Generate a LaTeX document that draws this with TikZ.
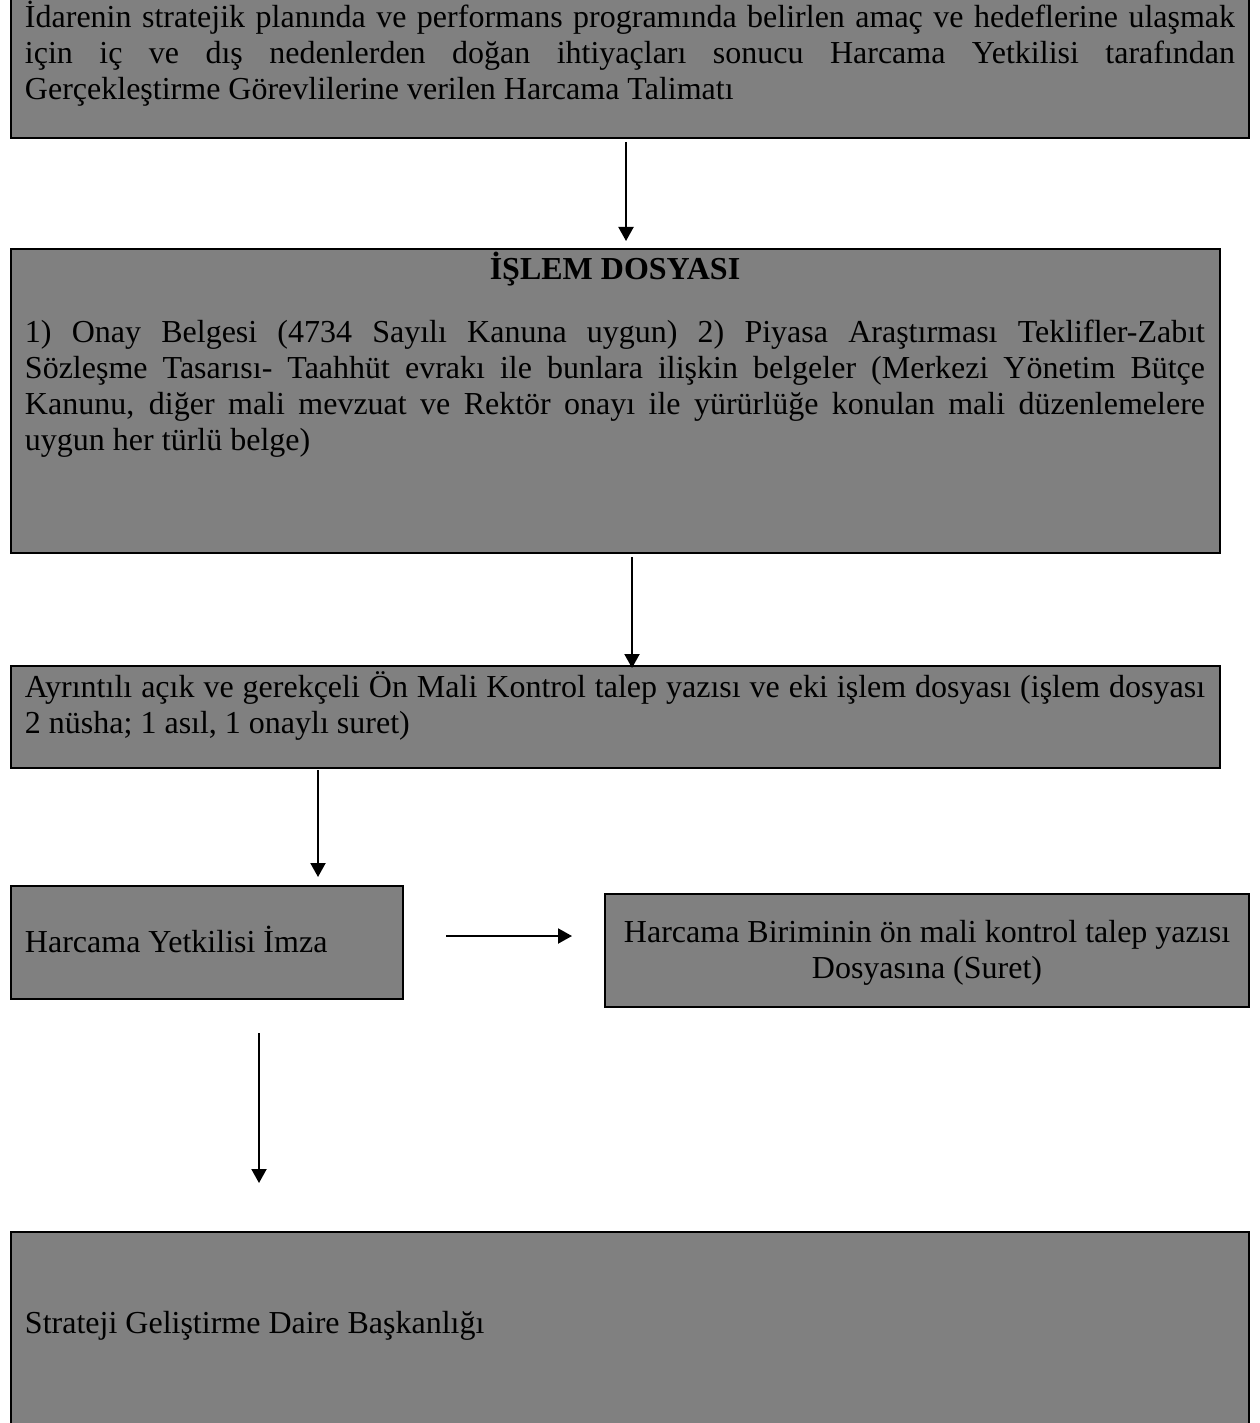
\documentclass[tikz,border=0pt]{standalone}
\usepackage{fontspec}
\setmainfont{Liberation Serif}
\usetikzlibrary{arrows.meta,calc}
\tolerance=9999
\emergencystretch=10pt
\hyphenpenalty=10000
\exhyphenpenalty=10000
\begin{document}
\begin{tikzpicture}[x=0.5pt,y=-0.5pt,
  box/.style={draw=black,line width=1.3pt,fill=gray,rectangle,inner sep=0pt,outer sep=0pt},
  txt/.style={inner sep=0pt,outer sep=0pt,font=\fontsize{16pt}{18pt}\selectfont},
  para/.style={txt,anchor=base west,align=justify},
  arr/.style={line width=1pt,-{Triangle[width=7.5pt,length=7pt]}}]
\useasboundingbox (0,0) rectangle (1259,1423);
% boxes
\node[box,minimum width=619pt,minimum height=72pt] (b1) at (630,66) {};
\node[box,minimum width=604.5pt,minimum height=152pt] (b2) at (615.5,401) {};
\node[box,minimum width=604.5pt,minimum height=51pt] (b3) at (615.5,717) {};
\node[box,minimum width=196pt,minimum height=56.5pt] (b4) at (207,942.5) {};
\node[box,minimum width=322pt,minimum height=56.5pt] (b5) at (927,950.5) {};
\node[box,minimum width=619pt,minimum height=104pt] (b6) at (630,1336) {};
% texts
\node[para,text width=605pt] (t1) at (25,28)
 {İdarenin stratejik planında ve performans programında belirlen amaç ve hedeflerine ulaşmak\linebreak
  için iç ve dış nedenlerden doğan ihtiyaçları sonucu Harcama Yetkilisi tarafından\linebreak
  Gerçekleştirme Görevlilerine verilen Harcama Talimatı};
\node[txt,anchor=base,font=\fontsize{16pt}{18pt}\selectfont\bfseries] (t2h) at (615,279) {İŞLEM DOSYASI};
\node[para,text width=590pt] (t2) at (25,342)
 {1) Onay Belgesi (4734 Sayılı Kanuna uygun) 2) Piyasa Araştırması Teklifler-Zabıt\linebreak
  Sözleşme Tasarısı- Taahhüt evrakı ile bunlara ilişkin belgeler (Merkezi Yönetim Bütçe\linebreak
  Kanunu, diğer mali mevzuat ve Rektör onayı ile yürürlüğe konulan mali düzenlemelere\linebreak
  uygun her türlü belge)};
\node[para,text width=590pt] (t3) at (25,697)
 {Ayrıntılı açık ve gerekçeli Ön Mali Kontrol talep yazısı ve eki işlem dosyası (işlem dosyası\linebreak
  2 nüsha; 1 asıl, 1 onaylı suret)};
\node[txt,anchor=base west] (t4) at (25,952) {Harcama Yetkilisi İmza};
\node[txt,anchor=base,align=center] (t5) at (927,978)
 {Harcama Biriminin ön mali kontrol talep yazısı\\Dosyasına (Suret)};
\node[txt,anchor=base west] (t6) at (25,1333) {Strateji Geliştirme Daire Başkanlığı};
% connector x / y positions
\coordinate (x1) at (626,0);
\coordinate (x2) at (632,0);
\coordinate (x3) at (318,0);
\coordinate (y4) at (0,936);
\coordinate (x5) at (259,0);
% connectors
\draw[arr] ($(b1.south -| x1)+(0,4)$) -- ($(b2.north -| x1)+(0,-8)$);
\draw[arr] ($(b2.south -| x2)+(0,4)$) -- ($(b3.north -| x2)+(0,2)$);
\draw[arr] ($(b3.south -| x3)+(0,2)$) -- ($(b4.north -| x3)+(0,-9)$);
\draw[arr] ($(b4.east |- y4)+(43,0)$) -- ($(b5.west |- y4)+(-33,0)$);
\draw[arr] ($(b4.south -| x5)+(0,34)$) -- ($(b6.north -| x5)+(0,-49)$);
\end{tikzpicture}
\end{document}
